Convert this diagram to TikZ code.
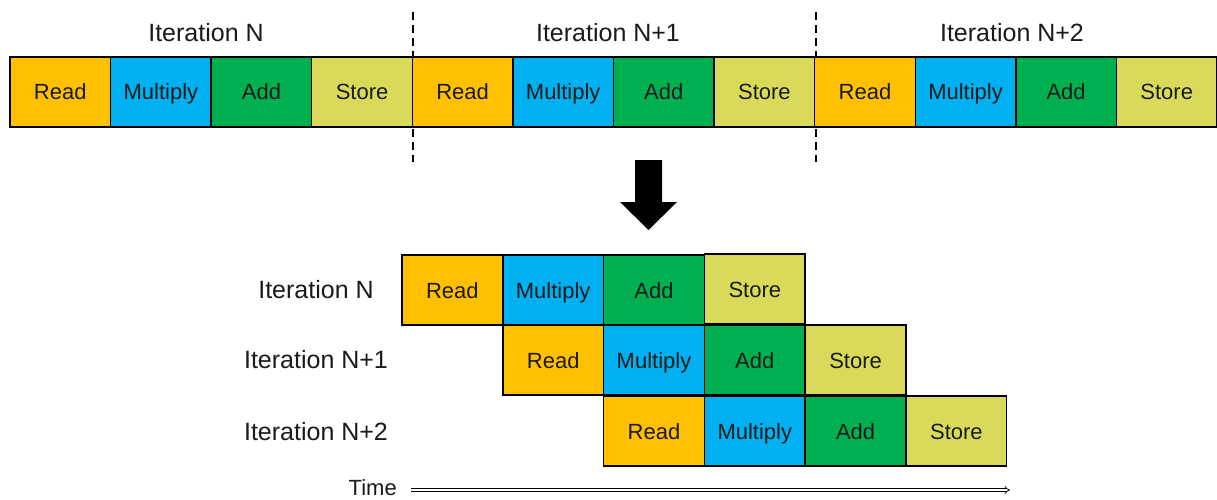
\documentclass[tikz,border=0pt]{standalone}
\usepackage{fontspec}
\setmainfont{Liberation Sans}
\usetikzlibrary{arrows.meta}
\definecolor{cread}{HTML}{FFC000}
\definecolor{cmul}{HTML}{00B0F0}
\definecolor{cadd}{HTML}{00B050}
\definecolor{cstore}{HTML}{D9DA5A}
\definecolor{ctext}{HTML}{1A1A1A}
\tikzset{
  cell/.style={draw=black, line width=1.4pt, inner sep=0pt, minimum width=100.6pt, minimum height=70pt, text height=16pt, text depth=0pt, text=ctext, font=\fontsize{22}{24}\selectfont},
  rd/.style={cell, fill=cread},
  mu/.style={cell, fill=cmul},
  ad/.style={cell, fill=cadd},
  st/.style={cell, fill=cstore},
  lbl/.style={text=ctext, font=\fontsize{25}{28}\selectfont, inner sep=0pt},
  sep/.style={draw=black, line width=1.6pt, dash pattern=on 8pt off 5pt},
}
\begin{document}
\begin{tikzpicture}[x=1pt,y=-1pt]
\useasboundingbox (0,0) rectangle (1217,500);
% separators
\coordinate (s1t) at (413,12); \coordinate (s1b) at (413,162);
\coordinate (s2t) at (816,12); \coordinate (s2b) at (816,162);
\draw[sep] (s1t) -- (s1b);
\draw[sep] (s2t) -- (s2b);
% top labels
\node[lbl] (tl1) at (206,33) {Iteration N};
\node[lbl] (tl2) at (608,33) {Iteration N+1};
\node[lbl] (tl3) at (1012,33) {Iteration N+2};
% top bar
\node[rd] (t1)  at (60.29,92) {Read};
\node[mu] (t2)  at (160.87,92) {Multiply};
\node[ad] (t3)  at (261.46,92) {Add};
\node[st] (t4)  at (362.04,92) {Store};
\node[rd] (t5)  at (462.62,92) {Read};
\node[mu] (t6)  at (563.21,92) {Multiply};
\node[ad] (t7)  at (663.79,92) {Add};
\node[st] (t8)  at (764.37,92) {Store};
\node[rd] (t9)  at (864.96,92) {Read};
\node[mu] (t10) at (965.54,92) {Multiply};
\node[ad] (t11) at (1066.12,92) {Add};
\node[st] (t12) at (1166.71,92) {Store};
% block arrow
\fill[black] (635,160) -- (662,160) -- (662,202) -- (677,202) -- (648.5,230) -- (620,202) -- (635,202) -- cycle;
% bottom labels
\node[lbl] (bl1) at (316,290) {Iteration N};
\node[lbl] (bl2) at (316,360) {Iteration N+1};
\node[lbl] (bl3) at (316,432) {Iteration N+2};
% row 1
\node[rd] (a1) at (452.4,290) {Read};
\node[mu] (a2) at (553.2,290) {Multiply};
\node[ad] (a3) at (654.0,290) {Add};
\node[st] (a4) at (754.8,289) {Store};
% row 2
\node[rd] (b1) at (553.2,360) {Read};
\node[mu] (b2) at (654.0,360) {Multiply};
\node[ad] (b3) at (754.8,360) {Add};
\node[st] (b4) at (855.6,360) {Store};
% row 3
\node[rd] (c1) at (654.0,431) {Read};
\node[mu] (c2) at (754.8,431) {Multiply};
\node[ad] (c3) at (855.6,431) {Add};
\node[st] (c4) at (956.4,431) {Store};
% time axis
\node[text=ctext, font=\fontsize{22}{24}\selectfont, inner sep=0pt, anchor=east] (time) at (397,488) {Time};
\coordinate (tend) at (1010,490);
\draw[double=white, double distance=2pt, line width=0.7pt, -{Implies}] ([xshift=14pt,yshift=-2pt]time.east) -- (tend);
\end{tikzpicture}
\end{document}
